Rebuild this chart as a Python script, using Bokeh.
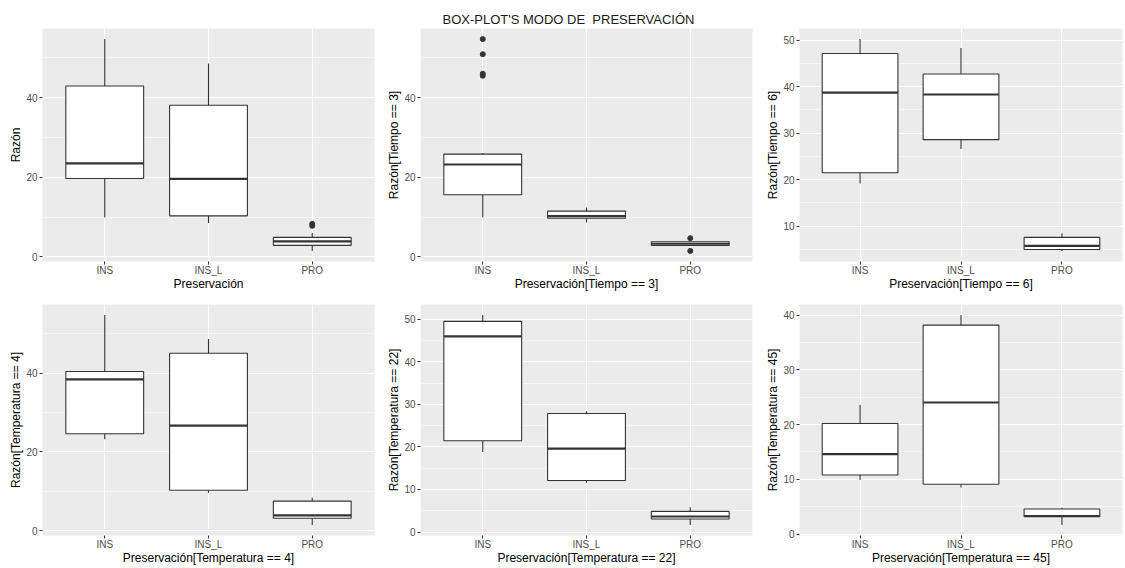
from bokeh.plotting import figure
from bokeh.layouts import gridplot
from bokeh.models import FixedTicker, Range1d
from bokeh.embed import file_html
from bokeh.resources import INLINE

categories = ["INS", "INS_L", "PRO"]

# Five-number summaries per category: lower whisker, Q1, median, Q3, upper whisker
todo_stats = [
    (9.9, 19.7, 23.5, 42.9, 54.7),
    (8.5, 10.3, 19.6, 38.1, 48.6),
    (1.5, 2.9, 3.9, 4.9, 6.0),
]
todo_outliers = [[], [], [7.8, 8.3]]

tiempo3_stats = [
    (9.9, 15.6, 23.2, 25.8, 26.1),
    (8.65, 9.7, 10.25, 11.5, 12.4),
    (2.85, 2.85, 3.3, 3.8, 3.95),
]
tiempo3_outliers = [[45.5, 46.0, 50.9, 54.7], [], [1.5, 4.7]]

tiempo6_stats = [
    (19.2, 21.5, 38.7, 47.1, 50.2),
    (26.6, 28.6, 38.3, 42.7, 48.3),
    (4.7, 5.0, 5.8, 7.6, 8.5),
]
tiempo6_outliers = [[], [], []]

temp4_stats = [
    (23.2, 24.6, 38.4, 40.4, 54.7),
    (9.7, 10.3, 26.7, 45.0, 48.6),
    (1.5, 3.2, 3.95, 7.55, 8.4),
]
temp4_outliers = [[], [], []]

temp22_stats = [
    (18.8, 21.45, 46.0, 49.5, 51.0),
    (11.6, 12.1, 19.6, 27.85, 28.4),
    (1.65, 3.05, 3.65, 4.85, 5.85),
]
temp22_outliers = [[], [], []]

temp45_stats = [
    (9.9, 10.8, 14.6, 20.2, 23.6),
    (8.5, 9.1, 24.05, 38.2, 40.05),
    (1.65, 3.15, 3.3, 4.57, 4.8),
]
temp45_outliers = [[], [], []]

y_labels = ["Razón", "Razón[Tiempo == 3]", "Razón[Tiempo == 6]",
            "Razón[Temperatura == 4]", "Razón[Temperatura == 22]", "Razón[Temperatura == 45]"]
x_labels = ["Preservación", "Preservación[Tiempo == 3]", "Preservación[Tiempo == 6]",
            "Preservación[Temperatura == 4]", "Preservación[Temperatura == 22]",
            "Preservación[Temperatura == 45]"]
main_title = "BOX-PLOT'S MODO DE\u00a0 PRESERVACIÓN"

FONT = "Liberation Sans"
PANEL_BG = "#EBEBEB"
INK = "#333333"
TICK_TXT = "#4D4D4D"

# Panel geometry (figure width/height and borders) per column / row
col_w = [384, 378, 363]
col_left = [42, 36, 37]
col_right = [10, 10, 3]
row_h = [296, 272]
row_top = [28, 8]
row_bottom = [35, 33]
y_steps = [20, 20, 10, 20, 10, 10]


def make_panel(idx, stats, outliers):
    r, c = divmod(idx, 3)
    lows = [s[0] for s in stats]
    q1 = [s[1] for s in stats]
    med = [s[2] for s in stats]
    q3 = [s[3] for s in stats]
    highs = [s[4] for s in stats]
    xs = [i + 1 for i in range(len(categories))]

    all_vals = lows + highs + [v for o in outliers for v in o]
    lo, hi = min(all_vals), max(all_vals)
    pad = 0.05 * (hi - lo)
    y0, y1 = lo - pad, hi + pad

    p = figure(width=col_w[c], height=row_h[r], output_backend="svg",
               toolbar_location=None, x_range=Range1d(0.4, 3.6),
               y_range=Range1d(y0, y1),
               min_border_left=col_left[c], min_border_right=col_right[c],
               min_border_top=row_top[r], min_border_bottom=row_bottom[r])
    p.background_fill_color = PANEL_BG
    p.border_fill_color = "white"
    p.outline_line_color = None

    step = y_steps[idx]
    major = [v for v in range(0, 101, step) if y0 <= v <= y1]
    minor = [v + step / 2 for v in range(-step, 101, step) if y0 <= v + step / 2 <= y1]
    p.yaxis.ticker = FixedTicker(ticks=major, minor_ticks=minor)
    p.xaxis.ticker = FixedTicker(ticks=xs)
    p.xaxis.major_label_overrides = {x: name for x, name in zip(xs, categories)}

    p.ygrid.grid_line_color = "white"
    p.ygrid.grid_line_width = 1.1
    p.ygrid.minor_grid_line_color = "white"
    p.ygrid.minor_grid_line_width = 0.55
    p.xgrid.grid_line_color = "white"
    p.xgrid.grid_line_width = 1.1

    for ax in (p.xaxis[0], p.yaxis[0]):
        ax.axis_line_color = None
        ax.major_tick_line_color = INK
        ax.major_tick_out = 3
        ax.major_tick_in = 0
        ax.minor_tick_line_color = None
        ax.major_label_text_font = FONT
        ax.major_label_text_font_size = "10px"
        ax.major_label_text_color = TICK_TXT
        ax.major_label_text_line_height = 1.0
        ax.major_label_standoff = 1
        ax.axis_label_text_font = FONT
        ax.axis_label_text_font_size = "12px"
        ax.axis_label_text_font_style = "normal"
        ax.axis_label_text_color = "black"
        ax.axis_label_text_line_height = 1.0
        ax.axis_label_standoff = 0

    # tighter bottom axis so the lower panels keep their full height
    p.xaxis.major_label_standoff = 0
    p.xaxis.axis_label_standoff = -2

    p.xaxis.axis_label = x_labels[idx]
    p.yaxis.axis_label = y_labels[idx]

    # whiskers
    p.segment(x0=xs, x1=xs, y0=lows, y1=q1, line_color=INK, line_width=1.1)
    p.segment(x0=xs, x1=xs, y0=q3, y1=highs, line_color=INK, line_width=1.1)
    # boxes
    p.vbar(x=xs, width=0.75, bottom=q1, top=q3, fill_color="white",
           line_color=INK, line_width=1.1)
    # medians
    p.segment(x0=[x - 0.375 for x in xs], x1=[x + 0.375 for x in xs],
              y0=med, y1=med, line_color=INK, line_width=2.2)
    # outliers
    ox = [xs[i] for i, o in enumerate(outliers) for _ in o]
    oy = [v for o in outliers for v in o]
    if oy:
        p.scatter(ox, oy, size=5, color=INK)
    return p


panels = [
    make_panel(0, todo_stats, todo_outliers),
    make_panel(1, tiempo3_stats, tiempo3_outliers),
    make_panel(2, tiempo6_stats, tiempo6_outliers),
    make_panel(3, temp4_stats, temp4_outliers),
    make_panel(4, temp22_stats, temp22_outliers),
    make_panel(5, temp45_stats, temp45_outliers),
]

top_mid = panels[1]
top_mid.title.text = main_title
top_mid.title.align = "left"
top_mid.title.offset = 22
top_mid.title.text_font = FONT
top_mid.title.text_font_size = "13px"
top_mid.title.text_font_style = "normal"
top_mid.title.text_color = "#1A1A1A"
top_mid.title.standoff = 4

grid = gridplot([panels[:3], panels[3:]], toolbar_location=None)

open("out.html", "w").write(file_html(grid, INLINE))
